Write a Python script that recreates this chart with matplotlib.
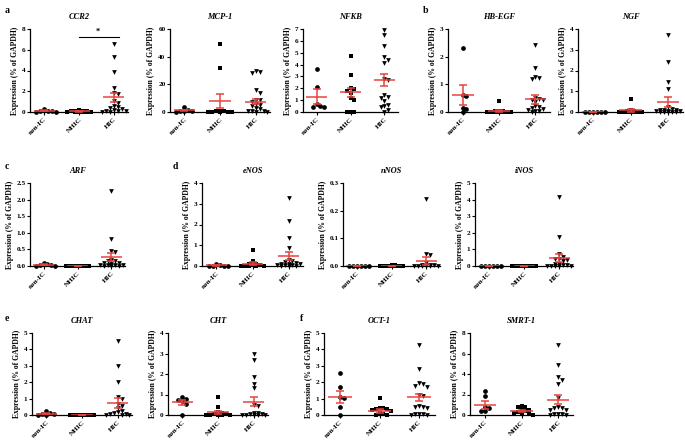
import matplotlib.pyplot as plt
import numpy as np

plt.rcParams['font.family'] = ['Liberation Serif', 'DejaVu Serif']
plt.rcParams['font.weight'] = 'bold'

groups = ['non-IC', 'NHIC', 'HIC']
markers = ['o', 's', 'v']
RED = '#e8423f'

# values (% of GAPDH), per group: non-IC, NHIC, HIC
ccr2_nonic = [0.3, 0.1, 0.05, 0.05, 0.0, 0.0]
ccr2_nhic = [0.2, 0.1, 0.1, 0.05, 0.05, 0.0, 0.0, 0.0, 0.0, 0.0, 0.0]
ccr2_hic = [6.6, 5.3, 3.9, 2.3, 1.85, 1.7, 1.1, 0.9, 0.6, 0.5, 0.4, 0.3, 0.2, 0.1, 0.1, 0.05, 0.0, 0.0]
ccr2_mean = [0.1, 0.05, 1.4]
ccr2_sem = [0.05, 0.02, 0.45]

mcp1_nonic = [3.5, 1.5, 1.0, 0.5, 0.5, 0.0]
mcp1_nhic = [49, 31.5, 1.0, 0.5, 0.5, 0.0, 0.0, 0.0, 0.0, 0.0]
mcp1_hic = [29.5, 29, 28.5, 16, 14, 9, 8.5, 7, 6, 5, 4, 3, 2, 1, 0.5, 0.5, 0.0, 0.0]
mcp1_mean = [1.2, 7.8, 7.5]
mcp1_sem = [0.5, 5.0, 1.7]

nfkb_nonic = [3.6, 2.1, 0.7, 0.5, 0.45, 0.4]
nfkb_nhic = [4.7, 3.1, 2.0, 1.9, 1.8, 1.6, 1.2, 1.0, 0.0, 0.0, 0.0]
nfkb_hic = [6.9, 6.5, 5.6, 4.6, 4.4, 4.1, 2.8, 2.7, 1.4, 1.3, 1.2, 0.9, 0.6, 0.5, 0.4, 0.2, 0.0]
nfkb_mean = [1.3, 1.65, 2.7]
nfkb_sem = [0.6, 0.4, 0.5]

hbegf_nonic = [2.33, 0.62, 0.58, 0.15, 0.12, 0.0]
hbegf_nhic = [0.4, 0.05, 0.05, 0.02, 0.0, 0.0, 0.0, 0.0, 0.0, 0.0, 0.0]
hbegf_hic = [2.43, 1.6, 1.25, 1.22, 1.2, 0.5, 0.47, 0.45, 0.42, 0.35, 0.2, 0.18, 0.15, 0.1, 0.08, 0.05, 0.02, 0.0]
hbegf_mean = [0.63, 0.05, 0.46]
hbegf_sem = [0.36, 0.04, 0.16]

ngf_nonic = [0.02, 0.01, 0.0, 0.0, 0.0, 0.0]
ngf_nhic = [0.65, 0.1, 0.05, 0.05, 0.0, 0.0, 0.0, 0.0, 0.0, 0.0, 0.0]
ngf_hic = [3.7, 2.4, 1.45, 1.1, 0.25, 0.15, 0.1, 0.08, 0.08, 0.05, 0.05, 0.03, 0.02, 0.0, 0.0, 0.0, 0.0]
ngf_mean = [0.01, 0.08, 0.49]
ngf_sem = [0.005, 0.06, 0.24]

arf_nonic = [0.1, 0.05, 0.03, 0.02, 0.01, 0.0]
arf_nhic = [0.01, 0.01, 0.0, 0.0, 0.0, 0.0, 0.0, 0.0, 0.0, 0.0, 0.0]
arf_hic = [2.25, 0.82, 0.46, 0.43, 0.18, 0.16, 0.14, 0.1, 0.08, 0.05, 0.04, 0.03, 0.02, 0.02, 0.01, 0.0, 0.0]
arf_mean = [0.04, 0.005, 0.26]
arf_sem = [0.015, 0.003, 0.12]

enos_nonic = [0.1, 0.05, 0.02, 0.01, 0.0, 0.0]
enos_nhic = [0.75, 0.25, 0.12, 0.1, 0.05, 0.03, 0.02, 0.0, 0.0, 0.0, 0.0]
enos_hic = [3.27, 2.15, 1.34, 0.89, 0.3, 0.25, 0.2, 0.15, 0.12, 0.1, 0.08, 0.06, 0.05, 0.03, 0.02, 0.0, 0.0]
enos_mean = [0.03, 0.1, 0.48]
enos_sem = [0.015, 0.07, 0.2]

nnos_nonic = [0.0, 0.0, 0.0, 0.0, 0.0, 0.0]
nnos_nhic = [0.003, 0.002, 0.001, 0.0, 0.0, 0.0, 0.0, 0.0, 0.0, 0.0, 0.0]
nnos_hic = [0.242, 0.042, 0.038, 0.01, 0.005, 0.003, 0.002, 0.001, 0.0, 0.0, 0.0, 0.0, 0.0]
nnos_mean = [0.0, 0.001, 0.019]
nnos_sem = [0.0, 0.0005, 0.014]

inos_nonic = [0.01, 0.0, 0.0, 0.0, 0.0, 0.0]
inos_nhic = [0.02, 0.01, 0.01, 0.0, 0.0, 0.0, 0.0, 0.0, 0.0, 0.0, 0.0]
inos_hic = [4.15, 1.77, 0.75, 0.55, 0.45, 0.4, 0.35, 0.3, 0.15, 0.1, 0.08, 0.05, 0.03, 0.02, 0.0, 0.0, 0.0]
inos_mean = [0.005, 0.01, 0.5]
inos_sem = [0.003, 0.005, 0.25]

chat_nonic = [0.24, 0.12, 0.08, 0.05, 0.02, 0.0]
chat_nhic = [0.03, 0.02, 0.01, 0.0, 0.0, 0.0, 0.0, 0.0, 0.0, 0.0, 0.0]
chat_hic = [4.5, 2.98, 2.02, 1.07, 1.0, 0.67, 0.56, 0.42, 0.26, 0.16, 0.1, 0.06, 0.05, 0.03, 0.02, 0.0]
chat_mean = [0.09, 0.01, 0.73]
chat_sem = [0.04, 0.005, 0.28]

cht_nonic = [0.89, 0.77, 0.73, 0.69, 0.53, 0.0]
cht_nhic = [0.89, 0.37, 0.13, 0.08, 0.05, 0.03, 0.02, 0.0, 0.0, 0.0, 0.0]
cht_hic = [2.98, 2.7, 1.85, 1.5, 1.3, 0.5, 0.45, 0.1, 0.08, 0.05, 0.03, 0.02, 0.0, 0.0, 0.0, 0.0]
cht_mean = [0.61, 0.13, 0.65]
cht_sem = [0.13, 0.08, 0.22]

oct1_nonic = [2.54, 1.71, 1.07, 1.05, 0.5, 0.0]
oct1_nhic = [1.03, 0.42, 0.4, 0.38, 0.35, 0.3, 0.25, 0.1, 0.05, 0.0, 0.0]
oct1_hic = [4.25, 2.82, 1.95, 1.9, 1.77, 1.72, 1.23, 1.17, 0.56, 0.5, 0.46, 0.42, 0.08, 0.06, 0.04, 0.02, 0.0]
oct1_mean = [1.1, 0.25, 1.07]
oct1_sem = [0.37, 0.1, 0.24]

smrt1_nonic = [2.3, 1.87, 0.8, 0.68, 0.42, 0.35]
smrt1_nhic = [0.85, 0.8, 0.75, 0.5, 0.45, 0.35, 0.3, 0.2, 0.1, 0.05, 0.0]
smrt1_hic = [6.8, 4.84, 3.7, 3.45, 3.0, 1.7, 0.75, 0.7, 0.65, 0.5, 0.45, 0.1, 0.08, 0.05, 0.03, 0.0]
smrt1_mean = [1.0, 0.35, 1.5]
smrt1_sem = [0.4, 0.1, 0.47]

ticks_0_8 = [0, 2, 4, 6, 8]
ticks_mcp1 = [0, 20, 40, 60]
ticks_nfkb = [0, 1, 2, 3, 4, 5, 6, 7]
ticks_hbegf = [0, 1, 2, 3]
ticks_0_4 = [0, 1, 2, 3, 4]
ticks_0_5 = [0, 1, 2, 3, 4, 5]
ticks_arf = [0.0, 0.5, 1.0, 1.5, 2.0, 2.5]
ticks_nnos = [0.0, 0.1, 0.2, 0.3]

panels = [
    ('CCR2', [ccr2_nonic, ccr2_nhic, ccr2_hic], ccr2_mean, ccr2_sem, ticks_0_8, '%d'),
    ('MCP-1', [mcp1_nonic, mcp1_nhic, mcp1_hic], mcp1_mean, mcp1_sem, ticks_mcp1, '%d'),
    ('NFKB', [nfkb_nonic, nfkb_nhic, nfkb_hic], nfkb_mean, nfkb_sem, ticks_nfkb, '%d'),
    ('HB-EGF', [hbegf_nonic, hbegf_nhic, hbegf_hic], hbegf_mean, hbegf_sem, ticks_hbegf, '%d'),
    ('NGF', [ngf_nonic, ngf_nhic, ngf_hic], ngf_mean, ngf_sem, ticks_0_4, '%d'),
    ('ARF', [arf_nonic, arf_nhic, arf_hic], arf_mean, arf_sem, ticks_arf, '%.1f'),
    ('eNOS', [enos_nonic, enos_nhic, enos_hic], enos_mean, enos_sem, ticks_0_4, '%d'),
    ('nNOS', [nnos_nonic, nnos_nhic, nnos_hic], nnos_mean, nnos_sem, ticks_nnos, '%.1f'),
    ('iNOS', [inos_nonic, inos_nhic, inos_hic], inos_mean, inos_sem, ticks_0_5, '%d'),
    ('CHAT', [chat_nonic, chat_nhic, chat_hic], chat_mean, chat_sem, ticks_0_5, '%d'),
    ('CHT', [cht_nonic, cht_nhic, cht_hic], cht_mean, cht_sem, ticks_0_4, '%d'),
    ('OCT-1', [oct1_nonic, oct1_nhic, oct1_hic], oct1_mean, oct1_sem, ticks_0_5, '%d'),
    ('SMRT-1', [smrt1_nonic, smrt1_nhic, smrt1_hic], smrt1_mean, smrt1_sem, ticks_0_8, '%d'),
]

W, H = 685, 443
# axes boxes in pixels: left, right, top (y of top tick), bottom (y of zero line)
boxes = [
    (30, 128, 29, 112), (170, 270, 29, 112), (303, 398, 29, 112), (448, 550, 29, 112), (578, 683, 29, 112),
    (30, 125, 183, 266), (202, 303, 183, 266), (343, 440, 183, 266), (475, 573, 183, 266),
    (32, 132, 333, 415), (168, 268, 333, 415), (324, 435, 333, 415), (470, 573, 333, 415),
]
letters = [('a', 5, 6), ('b', 423, 6), ('c', 5, 162), ('d', 173, 162), ('e', 5, 314), ('f', 300, 314)]


def swarm(vals, ymax, h_px, px_per_unit, d=4.6, max_off=0.4):
    # column scatter: spread close points sideways inside the column,
    # let them overlap once the column is full
    ys = np.array(vals, dtype=float) / ymax * h_px
    offs = np.zeros(len(ys))
    placed = []
    lim = max_off * px_per_unit
    cands = [0.0]
    k = 1
    while k * d * 0.85 <= lim:
        cands += [k * d * 0.85, -k * d * 0.85]
        k += 1
    for i in np.argsort(-ys, kind='stable'):
        best, best_gap = 0.0, -1.0
        for ox in cands:
            gap = min([np.hypot(ox - px, ys[i] - py) for px, py in placed] + [99.0])
            if gap >= d * 0.85:
                best = ox
                break
            if gap > best_gap:
                best, best_gap = ox, gap
        placed.append((best, ys[i]))
        offs[i] = best / px_per_unit
    return offs


fig = plt.figure(figsize=(W / 100, H / 100), dpi=100)

for (name, data, mean, sem, ticks, fmt), (l, r, t, b) in zip(panels, boxes):
    ax = fig.add_axes([l / W, 1 - b / H, (r - l) / W, (b - t) / H])
    ymax = ticks[-1]
    xlo, xhi = -0.4, 2.4
    px_per_unit = (r - l) / (xhi - xlo)
    for i, vals in enumerate(data):
        offs = swarm(vals, ymax, b - t, px_per_unit)
        ax.plot(i + offs, vals, linestyle='none', marker=markers[i], color='black',
                markersize=3.4, markeredgewidth=0, clip_on=False, zorder=3)
    x = np.arange(3)
    ax.hlines(mean, x - 0.3, x + 0.3, color=RED, linewidth=1.1, zorder=4)
    ax.errorbar(x, mean, yerr=sem, fmt='none', ecolor=RED, elinewidth=1.1,
                capsize=3.2, capthick=1.1, zorder=4)
    ax.set_xlim(xlo, xhi)
    ax.set_ylim(0, ymax)
    ax.set_yticks(ticks)
    ax.set_yticklabels([fmt % v for v in ticks])
    ax.set_xticks(x)
    ax.set_xticklabels(groups, rotation=45, ha='right', va='top', rotation_mode='anchor')
    ax.tick_params(labelsize=5.2, length=2, width=0.8, pad=1.2)
    ax.spines['top'].set_visible(False)
    ax.spines['right'].set_visible(False)
    ax.spines['left'].set_linewidth(0.9)
    ax.spines['bottom'].set_linewidth(0.9)
    ax.set_ylabel('Expression (% of GAPDH)', fontsize=5.5, fontweight='bold', labelpad=2)
    ax.set_title(name, fontsize=6, fontstyle='italic', fontweight='bold', pad=7)
    if name == 'CCR2':
        ax.plot([1, 2.15], [7.2, 7.2], color='black', linewidth=0.8, clip_on=False)
        ax.text(1.55, 7.35, '*', ha='center', va='bottom', fontsize=6)

for s, x, y in letters:
    fig.text(x / W, 1 - y / H, s, fontsize=7, fontweight='bold', va='top', ha='left')

fig.savefig('out.png', dpi=100)
